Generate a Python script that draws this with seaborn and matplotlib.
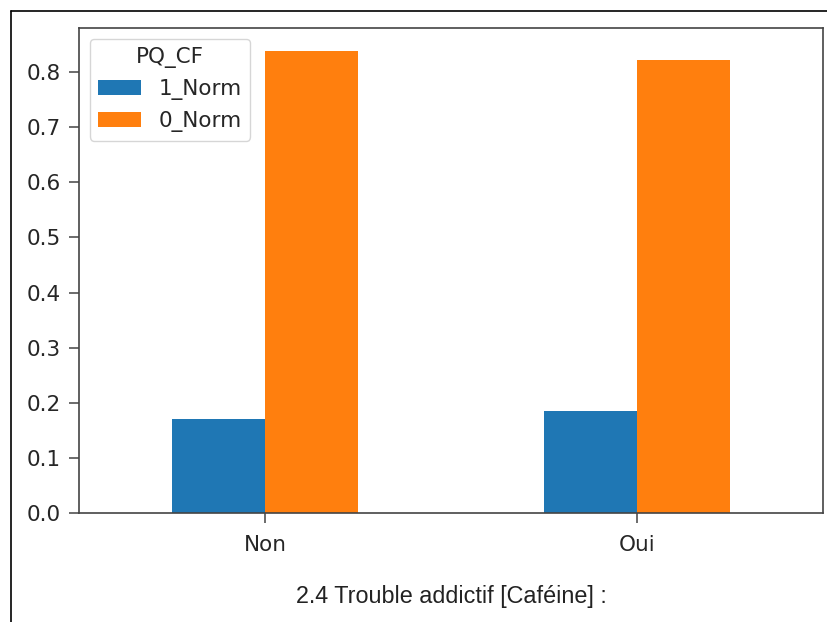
import pandas as pd
import seaborn as sns
from matplotlib import pyplot as plt
from matplotlib.lines import Line2D

categories = ["Non", "Oui"]
norm_1 = [0.171, 0.186]
norm_0 = [0.838, 0.821]
hue_levels = ["1_Norm", "0_Norm"]

df = pd.DataFrame({"cat": categories, "1_Norm": norm_1, "0_Norm": norm_0})
long_df = df.melt(id_vars="cat", var_name="PQ_CF", value_name="value")

sns.set_style("ticks")
plt.rcParams["font.family"] = ["DejaVu Sans"]

fig = plt.figure(figsize=(8.27, 6.22), dpi=100)
ax = fig.add_axes([0.0955, 0.175, 0.8995, 0.78])

sns.barplot(
    data=long_df, x="cat", y="value", hue="PQ_CF", hue_order=hue_levels,
    order=categories, palette=["#1f77b4", "#ff7f0e"], width=0.5,
    saturation=1, linewidth=0, ax=ax,
)

ax.set_xlim(-0.5, 1.5)
ax.set_yticks([0.0, 0.1, 0.2, 0.3, 0.4, 0.5, 0.6, 0.7, 0.8])
ax.set_ylabel("")
ax.set_xlabel("2.4 Trouble addictif [Caféine] :", fontsize=16.8,
              family=["Liberation Sans"], labelpad=21, color="#222222")
ax.tick_params(axis="both", labelsize=15.5, length=7, width=1.1, color="#444444")
ax.tick_params(axis="x", pad=9)
ax.tick_params(axis="y", pad=6)
for s in ax.spines.values():
    s.set_visible(True)
    s.set_linewidth(1.2)
    s.set_color("#444444")

leg = ax.legend(title="PQ_CF", loc="upper left", fontsize=15.5, title_fontsize=15.5,
                frameon=True, handlelength=2.0)
leg.get_frame().set_edgecolor("#cccccc")

# screenshot frame lines (top and left)
fig.add_artist(Line2D([0.0133, 1.0], [0.982, 0.982], color="black", linewidth=1.2))
fig.add_artist(Line2D([0.0133, 0.0133], [0.0, 0.982], color="black", linewidth=1.2))

fig.savefig("out.png", dpi=100)
